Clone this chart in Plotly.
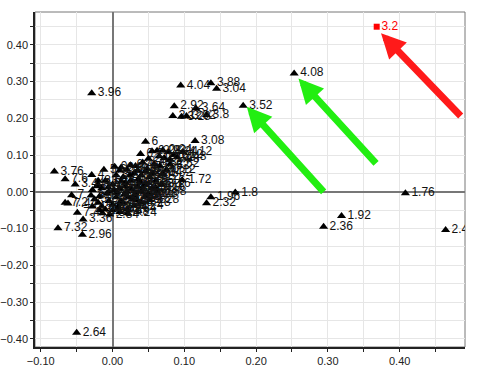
import plotly.graph_objects as go

# Outlying labelled points
out_x = [-0.029, 0.095, 0.137, 0.145, 0.086, 0.116, 0.084, 0.096, 0.103, 0.131,
         0.182, 0.253, 0.408, 0.319, 0.294, 0.464, 0.171, 0.137, 0.131, 0.097,
         0.115, 0.098, 0.046, 0.039, -0.081, -0.066, -0.029, -0.052, -0.020,
         -0.057, -0.062, -0.066, -0.049, -0.041, -0.076, -0.042, -0.050]
out_y = [0.268, 0.289, 0.295, 0.280, 0.233, 0.227, 0.206, 0.204, 0.206, 0.209,
         0.234, 0.322, -0.004, -0.066, -0.095, -0.104, -0.002, -0.015, -0.031, 0.032,
         0.138, 0.108, 0.136, 0.103, 0.055, 0.034, 0.046, 0.020, 0.030,
         -0.009, -0.032, -0.030, -0.057, -0.075, -0.099, -0.117, -0.383]
out_lbl = ["3.96", "4.04", "3.88", "3.04", "2.92", "3.64", "3.12", "3.28", "3.92", "3.8",
           "3.52", "4.08", "1.76", "1.92", "2.36", "2.4", "1.8", "1.96", "2.32", "1.72",
           "3.08", "4.12", "6", "0.2", "3.76", "7.6", "4", "3.44", "3.6",
           "7", "7.44", "7.2", "7.4", "3.36", "7.32", "2.96", "2.64"]

# Dense central cluster
cl_x = [0.055, 0.062, 0.070, 0.078, 0.085, 0.090, 0.065, 0.072, 0.080, 0.050,
        0.042, 0.058, 0.066, 0.048, 0.032, 0.020, 0.010, 0.003, -0.012, 0.012,
        0.025, 0.035, 0.040, 0.052, 0.060, 0.045, 0.055, 0.062, 0.050, 0.052,
        0.040, 0.030, 0.021, 0.010, 0.000, -0.010, -0.015, -0.020, -0.025, -0.030,
        -0.028, -0.020, -0.010, 0.000, 0.010, 0.020, 0.030, 0.005, -0.005, 0.015,
        0.025, 0.035, 0.015, 0.005, -0.015, -0.005, 0.028, 0.040, 0.070, 0.075,
        0.080, 0.030, -0.028, -0.018, 0.068, 0.008, -0.022, 0.018,
        0.000, 0.012, 0.022, 0.032, 0.042, -0.008, 0.002, 0.012, 0.024, 0.036,
        -0.018, -0.006, 0.006, 0.018, 0.046, 0.056,
        -0.014, -0.004, 0.008, 0.020, 0.034, 0.046, 0.060, 0.038, 0.026, 0.016]
cl_y = [0.110, 0.112, 0.113, 0.108, 0.100, 0.094, 0.097, 0.092, 0.088, 0.090,
        0.080, 0.075, 0.070, 0.062, 0.070, 0.060, 0.058, 0.068, 0.060, 0.066,
        0.072, 0.058, 0.045, 0.040, 0.030, 0.020, 0.010, 0.000, -0.005, -0.022,
        -0.030, -0.038, -0.058, -0.055, -0.050, -0.048, -0.040, -0.030, -0.020, -0.010,
        0.005, 0.020, 0.030, 0.020, 0.010, 0.000, -0.010, -0.015, -0.025, -0.030,
        0.030, 0.015, 0.040, 0.045, 0.010, 0.000, -0.020, 0.000, 0.050, 0.060,
        0.075, 0.050, -0.040, -0.050, 0.020, -0.040, 0.015, 0.025,
        -0.035, -0.025, -0.015, -0.005, 0.012, -0.005, 0.005, 0.028, 0.045, 0.035,
        -0.012, 0.012, -0.002, 0.015, 0.055, 0.050,
        -0.058, -0.062, -0.045, -0.048, -0.022, -0.012, 0.012, 0.028, 0.008, -0.008]
cl_lbl = ["0.28", "2.92", "0.24", "4.24", "1.12", "2.48", "0.76", "3.72", "1.48", "2.2",
          "3.4", "0.52", "2.52", "3.16", "6.8", "0.64", "2.6", "0", "5.6", "0.8",
          "6.4", "4.6", "1.36", "3.12", "5.16", "2.08", "1.88", "0.88", "3.28", "2.28",
          "4.28", "1.24", "4.24", "2.48", "0.48", "4.48", "3.32", "7.48", "5.2", "3.0",
          "2.0", "3.6", "3.9", "1.0", "2.12", "3.52", "1.52", "5.8", "2.72", "0.96",
          "1.92", "4.4", "2.84", "3.2", "6.2", "4.72", "2.64", "1.56", "1.32", "0.12",
          "4.52", "0.56", "4.8", "3.48", "2.16", "1.44", "6.6", "5.4",
          "2.44", "3.84", "1.64", "0.36", "2.56", "4.36", "5.28", "1.04", "0.68", "2.76",
          "6.12", "3.56", "4.64", "1.28", "0.92", "2.04",
          "4.32", "2.84", "3.24", "1.84", "2.68", "0.44", "1.16", "3.68", "5.04", "2.24"]

# Highlighted point
red_x = [0.368]
red_y = [0.449]
red_lbl = ["3.2"]

# Arrows: head and tail positions, colour
arr_hx = [0.187, 0.259, 0.374]
arr_hy = [0.231, 0.308, 0.431]
arr_tx = [0.296, 0.369, 0.487]
arr_ty = [-0.004, 0.073, 0.202]
arr_col = ["#22ee11", "#22ee11", "#ff1a1a"]

FONT = "Liberation Sans, Arial, sans-serif"

fig = go.Figure()
fig.add_trace(go.Scatter(
    x=cl_x + out_x, y=cl_y + out_y, text=cl_lbl + out_lbl,
    mode="markers+text", textposition="middle right",
    marker=dict(symbol="triangle-up", size=8, color="black"),
    textfont=dict(family=FONT, size=12, color="#111"), hoverinfo="skip"))
fig.add_trace(go.Scatter(
    x=red_x, y=red_y, text=red_lbl, mode="markers+text", textposition="middle right",
    marker=dict(symbol="square", size=6, color="red"),
    textfont=dict(family=FONT, size=12, color="red"), hoverinfo="skip"))

for hx, hy, tx, ty, c in zip(arr_hx, arr_hy, arr_tx, arr_ty, arr_col):
    fig.add_annotation(x=hx, y=hy, ax=tx, ay=ty, xref="x", yref="y", axref="x", ayref="y",
                       showarrow=True, arrowhead=2, arrowwidth=7, arrowsize=0.7,
                       arrowcolor=c, text="", standoff=0)

axis_common = dict(
    automargin=False,
    showgrid=True, gridcolor="#e6e6e6", gridwidth=1,
    zeroline=True, zerolinecolor="#777", zerolinewidth=1.5,
    showline=True, linecolor="#222", linewidth=1.5,
    ticks="outside", ticklen=3, tickcolor="#222",
    tickformat=".2f", tickfont=dict(family=FONT, size=11, color="#222"),
)
minor = dict(dtick=0.05, ticks="outside", ticklen=3, tickcolor="#222",
             showgrid=True, gridcolor="#e6e6e6")
fig.update_xaxes(range=[-0.108, 0.491], dtick=0.1, tick0=0, minor=minor, **axis_common)
fig.update_yaxes(range=[-0.422, 0.489], dtick=0.1, tick0=0, minor=minor, **axis_common)

fig.add_shape(type="rect", xref="paper", yref="paper", x0=0, y0=0, x1=1, y1=1,
              line=dict(color="#777", width=1), layer="below")

fig.update_layout(
    width=477, height=377, showlegend=False,
    margin=dict(l=35, r=12, t=12, b=30),
    plot_bgcolor="white", paper_bgcolor="white",
)
fig.write_html("out.html", config={"displayModeBar": False},
               post_script="document.body.style.margin='0px';")
